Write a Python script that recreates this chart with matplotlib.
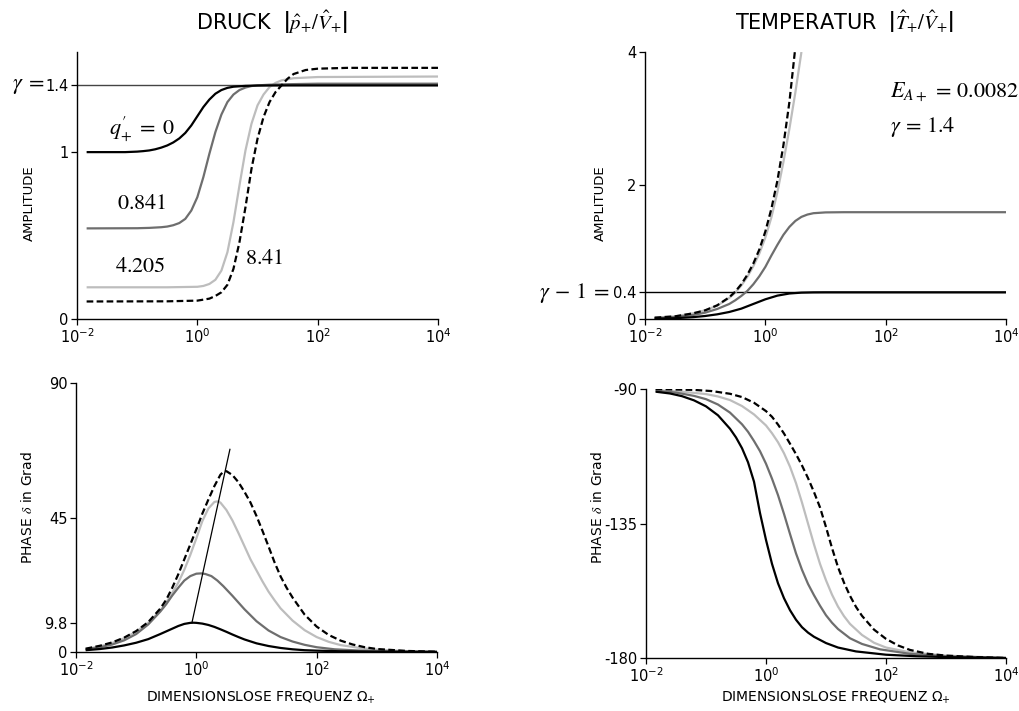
import numpy as np
import matplotlib
matplotlib.use("Agg")
import matplotlib.pyplot as plt

plt.rcParams['font.family'] = ['DejaVu Sans']
plt.rcParams['mathtext.fontset'] = 'stix'

W, H = 1019, 711

# ---------------- data (x given as log10 of dimensionless frequency) ----------------
# Pressure amplitude |p/V|
p_q0_lx = [-1.84, -1.2, -1.0, -0.9, -0.8, -0.7, -0.6, -0.5, -0.4, -0.3, -0.2, -0.1, 0.0, 0.1, 0.2, 0.3, 0.4, 0.5, 0.6, 0.8, 1.0, 1.5, 4.0]
p_q0_y = [1.0, 1.0, 1.003, 1.006, 1.01, 1.017, 1.027, 1.04, 1.058, 1.082, 1.115, 1.16, 1.215, 1.27, 1.315, 1.35, 1.372, 1.385, 1.392, 1.397, 1.399, 1.4, 1.4]
p_q1_lx = [-1.84, -1.0, -0.8, -0.6, -0.5, -0.4, -0.3, -0.2, -0.1, 0.0, 0.1, 0.2, 0.3, 0.4, 0.5, 0.6, 0.7, 0.8, 0.9, 1.0, 1.2, 1.5, 2.0, 4.0]
p_q1_y = [0.543, 0.544, 0.546, 0.55, 0.554, 0.562, 0.575, 0.60, 0.65, 0.73, 0.85, 0.99, 1.12, 1.225, 1.30, 1.345, 1.372, 1.387, 1.396, 1.40, 1.404, 1.407, 1.41, 1.41]
p_q2_lx = [-1.84, -0.5, 0.0, 0.1, 0.2, 0.3, 0.4, 0.5, 0.6, 0.7, 0.8, 0.9, 1.0, 1.1, 1.2, 1.3, 1.4, 1.6, 2.0, 4.0]
p_q2_y = [0.19, 0.19, 0.193, 0.198, 0.21, 0.235, 0.29, 0.40, 0.58, 0.80, 1.01, 1.17, 1.28, 1.345, 1.39, 1.415, 1.43, 1.443, 1.45, 1.453]
p_q3_lx = [-1.84, -0.5, 0.0, 0.2, 0.3, 0.4, 0.5, 0.6, 0.7, 0.8, 0.9, 1.0, 1.1, 1.2, 1.3, 1.4, 1.5, 1.6, 1.8, 2.0, 2.5, 4.0]
p_q3_y = [0.105, 0.106, 0.11, 0.122, 0.138, 0.16, 0.205, 0.30, 0.46, 0.67, 0.90, 1.08, 1.21, 1.30, 1.36, 1.40, 1.44, 1.468, 1.492, 1.50, 1.505, 1.505]

# Temperature amplitude |T/V|
t_q0_lx = [-1.84, -1.5, -1.2, -1.0, -0.8, -0.6, -0.4, -0.2, 0.0, 0.2, 0.4, 0.6, 0.8, 1.0, 4.0]
t_q0_y = [0.005, 0.012, 0.028, 0.045, 0.07, 0.105, 0.155, 0.225, 0.295, 0.35, 0.382, 0.395, 0.399, 0.4, 0.4]
t_q1_lx = [-1.84, -1.5, -1.2, -1.0, -0.8, -0.6, -0.5, -0.4, -0.3, -0.2, -0.1, 0.0, 0.1, 0.2, 0.3, 0.4, 0.5, 0.6, 0.7, 0.8, 1.0, 1.3, 4.0]
t_q1_y = [0.01, 0.03, 0.06, 0.095, 0.15, 0.225, 0.28, 0.345, 0.42, 0.52, 0.64, 0.78, 0.95, 1.11, 1.26, 1.38, 1.47, 1.53, 1.565, 1.585, 1.597, 1.6, 1.6]
t_q2_lx = [-1.84, -1.5, -1.2, -1.0, -0.8, -0.6, -0.5, -0.4, -0.3, -0.2, -0.1, 0.0, 0.1, 0.2, 0.3, 0.4, 0.5, 0.6]
t_q2_y = [0.02, 0.04, 0.085, 0.13, 0.2, 0.315, 0.395, 0.5, 0.63, 0.79, 0.98, 1.22, 1.52, 1.9, 2.35, 2.85, 3.4, 4.0]
t_q3_lx = [-1.84, -1.5, -1.2, -1.0, -0.8, -0.6, -0.5, -0.4, -0.3, -0.2, -0.1, 0.0, 0.1, 0.2, 0.3, 0.4, 0.49]
t_q3_y = [0.02, 0.04, 0.085, 0.13, 0.205, 0.325, 0.41, 0.52, 0.66, 0.83, 1.04, 1.31, 1.65, 2.07, 2.6, 3.25, 4.0]

# Pressure phase (deg)
b_q0_lx = [-1.84, -1.6, -1.4, -1.2, -1.0, -0.8, -0.6, -0.5, -0.4, -0.3, -0.2, -0.1, -0.05, 0.0, 0.1, 0.2, 0.3, 0.4, 0.5, 0.6, 0.7, 0.8, 1.0, 1.2, 1.4, 1.6, 1.8, 2.0, 2.4, 3.0, 4.0]
b_q0_y = [0.6, 1.0, 1.5, 2.2, 3.1, 4.3, 6.0, 6.9, 7.8, 8.7, 9.4, 9.75, 9.8, 9.75, 9.5, 9.05, 8.4, 7.6, 6.75, 5.85, 5.0, 4.2, 2.9, 2.0, 1.35, 0.9, 0.6, 0.45, 0.25, 0.1, 0.02]
b_q1_lx = [-1.84, -1.6, -1.4, -1.2, -1.0, -0.8, -0.6, -0.5, -0.4, -0.3, -0.2, -0.1, 0.0, 0.08, 0.15, 0.25, 0.35, 0.45, 0.6, 0.8, 1.0, 1.2, 1.4, 1.6, 1.8, 2.0, 2.3, 2.7, 3.2, 4.0]
b_q1_y = [0.9, 1.6, 2.5, 3.9, 6.0, 9.2, 13.5, 16.0, 18.9, 21.5, 23.9, 25.4, 26.2, 26.3, 26.1, 25.4, 23.9, 22.0, 18.8, 14.3, 10.3, 7.2, 5.0, 3.5, 2.4, 1.6, 0.9, 0.5, 0.25, 0.05]
b_q2_lx = [-1.84, -1.6, -1.4, -1.2, -1.0, -0.8, -0.6, -0.5, -0.4, -0.3, -0.2, -0.1, 0.0, 0.1, 0.2, 0.3, 0.35, 0.4, 0.5, 0.6, 0.7, 0.8, 0.9, 1.0, 1.1, 1.2, 1.3, 1.4, 1.6, 1.8, 2.0, 2.2, 2.4, 2.7, 3.0, 3.5, 4.0]
b_q2_y = [1.0, 1.9, 3.0, 4.6, 6.8, 9.8, 13.8, 16.6, 19.8, 23.2, 27.5, 32.5, 38.0, 43.8, 48.0, 50.2, 50.4, 50.0, 47.5, 44.0, 39.8, 35.4, 31.0, 27.3, 23.6, 20.2, 17.3, 14.6, 10.5, 7.3, 5.0, 3.4, 2.3, 1.4, 0.8, 0.3, 0.1]
b_q3_lx = [-1.84, -1.6, -1.4, -1.2, -1.0, -0.8, -0.6, -0.5, -0.4, -0.3, -0.2, -0.1, 0.0, 0.1, 0.2, 0.3, 0.4, 0.45, 0.5, 0.6, 0.7, 0.8, 0.9, 1.0, 1.1, 1.2, 1.3, 1.4, 1.5, 1.6, 1.8, 2.0, 2.2, 2.4, 2.6, 2.8, 3.0, 3.5, 4.0]
b_q3_y = [1.1, 2.1, 3.2, 4.8, 7.0, 10.0, 14.5, 17.5, 21.5, 26.0, 31.0, 36.0, 41.0, 46.3, 51.0, 55.5, 59.3, 60.3, 60.5, 59.2, 56.8, 53.6, 50.0, 45.5, 40.5, 35.3, 30.0, 25.3, 21.5, 18.2, 12.5, 8.5, 5.7, 3.8, 2.5, 1.6, 1.0, 0.35, 0.1]
peak_line_lx = [-0.073, 0.558]
peak_line_y = [9.8, 67.8]

# Temperature phase (deg)
r_q0_lx = [-1.84, -1.6, -1.4, -1.2, -1.0, -0.8, -0.6, -0.5, -0.4, -0.3, -0.2, -0.1, 0.0, 0.1, 0.2, 0.3, 0.4, 0.5, 0.6, 0.7, 0.8, 1.0, 1.2, 1.5, 2.0, 2.5, 3.0, 4.0]
r_q0_y = [-90.9, -91.5, -92.4, -93.8, -95.8, -98.8, -103.3, -106.2, -109.8, -114.5, -121.0, -131.5, -140.5, -148.5, -155.0, -160.0, -164.0, -167.2, -169.7, -171.5, -172.9, -175.0, -176.5, -177.8, -178.9, -179.4, -179.7, -180.0]
r_q1_lx = [-1.84, -1.5, -1.2, -1.0, -0.8, -0.6, -0.4, -0.3, -0.2, -0.1, 0.0, 0.1, 0.2, 0.3, 0.4, 0.5, 0.6, 0.7, 0.8, 0.9, 1.0, 1.1, 1.2, 1.4, 1.6, 1.9, 2.4, 3.0, 4.0]
r_q1_y = [-90.6, -91.2, -92.3, -93.4, -95.2, -97.9, -101.8, -104.3, -107.4, -110.8, -115.0, -120.0, -125.5, -131.8, -138.5, -145.0, -150.5, -155.2, -159.0, -162.5, -165.7, -168.2, -170.3, -173.4, -175.3, -177.1, -178.6, -179.4, -180.0]
r_q2_lx = [-1.84, -1.4, -1.0, -0.8, -0.6, -0.4, -0.2, 0.0, 0.1, 0.2, 0.3, 0.4, 0.5, 0.6, 0.7, 0.8, 0.9, 1.0, 1.1, 1.2, 1.3, 1.4, 1.6, 1.8, 2.0, 2.4, 3.0, 4.0]
r_q2_y = [-90.4, -90.9, -91.7, -92.5, -93.7, -95.7, -98.5, -102.2, -104.8, -107.8, -111.5, -116.0, -121.5, -128.0, -135.0, -142.0, -148.5, -154.0, -158.8, -162.8, -166.0, -168.6, -172.3, -174.9, -176.5, -178.1, -179.2, -180.0]
r_q3_lx = [-1.84, -1.2, -0.9, -0.6, -0.4, -0.2, 0.0, 0.1, 0.2, 0.3, 0.4, 0.5, 0.6, 0.7, 0.8, 0.9, 1.0, 1.1, 1.2, 1.3, 1.4, 1.5, 1.6, 1.8, 2.0, 2.2, 2.4, 2.7, 3.0, 3.5, 4.0]
r_q3_y = [-90.0, -90.3, -90.7, -91.6, -92.7, -94.6, -97.4, -99.3, -101.9, -104.9, -108.3, -111.8, -115.6, -119.8, -124.5, -129.6, -136.2, -143.2, -149.6, -154.8, -159.2, -162.9, -165.9, -170.5, -173.6, -175.8, -177.3, -178.6, -179.2, -179.7, -180.0]

x_ticks = [1e-2, 1e0, 1e2, 1e4]
x_ticklabels = [r'$\mathregular{10^{-2}}$', r'$\mathregular{10^{0}}$',
                r'$\mathregular{10^{2}}$', r'$\mathregular{10^{4}}$']

# ---------------- styles ----------------
LW = 1.6
styles = [
    dict(color='#bdbdbd', lw=LW, ls='-'),           # light gray (4.205)
    dict(color='#6e6e6e', lw=LW, ls='-'),           # dark gray (0.841)
    dict(color='black', lw=LW, ls='-'),             # black (0)
    dict(color='black', lw=LW, ls=(0, (3.0, 1.5))), # dashed (8.41)
]

fig = plt.figure(figsize=(W / 100, H / 100), dpi=100)


def rect(l, t, r, b):
    return [l / W, 1 - b / H, (r - l) / W, (b - t) / H]


def fx(x):
    return x / W


def fy(y):
    return 1 - y / H


def style_ax(ax, yticks, ylabels, ylim):
    ax.set_xscale('log')
    ax.set_xlim(1e-2, 1e4)
    ax.set_ylim(*ylim)
    for s in ['top', 'right']:
        ax.spines[s].set_visible(False)
    for s in ['left', 'bottom']:
        ax.spines[s].set_linewidth(1.0)
    ax.set_xticks(x_ticks)
    ax.set_xticklabels(x_ticklabels)
    ax.xaxis.set_minor_locator(matplotlib.ticker.NullLocator())
    ax.set_yticks(yticks)
    ax.set_yticklabels(ylabels)
    ax.tick_params(axis='both', which='major', length=4, width=0.9,
                   labelsize=10.5, pad=2)


def plot_set(ax, sets):
    for (lx, y), st in zip(sets, styles):
        ax.plot(10 ** np.array(lx), y, solid_capstyle='butt',
                solid_joinstyle='round', **st)


# ---- top-left: pressure amplitude
ax1 = fig.add_axes(rect(77, 52, 438, 319))
style_ax(ax1, [0, 1, 1.4], ['0', '1', '1.4'], (0, 1.6))
ax1.axhline(1.4, color='#444444', lw=1.0, zorder=1)
plot_set(ax1, [(p_q2_lx, p_q2_y), (p_q1_lx, p_q1_y), (p_q0_lx, p_q0_y), (p_q3_lx, p_q3_y)])

# ---- top-right: temperature amplitude
ax2 = fig.add_axes(rect(645, 52, 1006, 319))
style_ax(ax2, [0, 0.4, 2, 4], ['0', '0.4', '2', '4'], (0, 4))
ax2.axhline(0.4, color='black', lw=1.0, zorder=1)
plot_set(ax2, [(t_q2_lx, t_q2_y), (t_q1_lx, t_q1_y), (t_q0_lx, t_q0_y), (t_q3_lx, t_q3_y)])

# ---- bottom-left: pressure phase
ax3 = fig.add_axes(rect(76, 383, 437, 652))
style_ax(ax3, [0, 9.8, 45, 90], ['0', '9.8', '45', '90'], (0, 90))
plot_set(ax3, [(b_q2_lx, b_q2_y), (b_q1_lx, b_q1_y), (b_q0_lx, b_q0_y), (b_q3_lx, b_q3_y)])
ax3.plot(10 ** np.array(peak_line_lx), peak_line_y, color='black', lw=0.9, zorder=5)

# ---- bottom-right: temperature phase
ax4 = fig.add_axes(rect(646, 389, 1006, 658))
style_ax(ax4, [-180, -135, -90], ['-180', '-135', '-90'], (-180, -90))
plot_set(ax4, [(r_q2_lx, r_q2_y), (r_q1_lx, r_q1_y), (r_q0_lx, r_q0_y), (r_q3_lx, r_q3_y)])

# ---------------- texts ----------------
fig.text(fx(272), fy(22), r'DRUCK  $\left|\hat{p}_{+}/\hat{V}_{+}\right|$',
         ha='center', va='center', fontsize=15)
fig.text(fx(844), fy(22), r'TEMPERATUR  $\left|\hat{T}_{+}/\hat{V}_{+}\right|$',
         ha='center', va='center', fontsize=15)

fig.text(fx(29), fy(203), 'AMPLITUDE', rotation=90, ha='center', va='center', fontsize=9.5)
fig.text(fx(600), fy(203), 'AMPLITUDE', rotation=90, ha='center', va='center', fontsize=9.5)
fig.text(fx(28), fy(508), r'PHASE $\delta$ in Grad', rotation=90, ha='center', va='center', fontsize=10)
fig.text(fx(598), fy(508), r'PHASE $\delta$ in Grad', rotation=90, ha='center', va='center', fontsize=10)
fig.text(fx(261), fy(698), r'DIMENSIONSLOSE FREQUENZ $\mathregular{\Omega_{+}}$',
         ha='center', va='center', fontsize=10)
fig.text(fx(836), fy(698), r'DIMENSIONSLOSE FREQUENZ $\mathregular{\Omega_{+}}$',
         ha='center', va='center', fontsize=10)

fig.text(fx(45), fy(86), r'$\gamma\;=\;$', ha='right', va='center', fontsize=16)
fig.text(fx(610), fy(293), r'$\gamma\,-\,1\;=\;$', ha='right', va='center', fontsize=16)

fig.text(fx(142), fy(129), r"$q^{\prime}_{+}\;=\;0$", ha='center', va='center', fontsize=16)
fig.text(fx(142), fy(203), r'$0.841$', ha='center', va='center', fontsize=16)
fig.text(fx(140), fy(266), r'$4.205$', ha='center', va='center', fontsize=16)
fig.text(fx(264), fy(258), r'$8.41$', ha='center', va='center', fontsize=16)

fig.text(fx(890), fy(92), r'$E_{A+}\,=\,0.0082$', ha='left', va='center', fontsize=16)
fig.text(fx(890), fy(127), r'$\gamma\,=\,1.4$', ha='left', va='center', fontsize=16)

fig.savefig('out.png', dpi=100)
